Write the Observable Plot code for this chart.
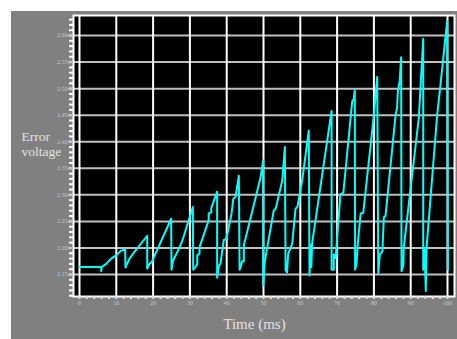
<!DOCTYPE html>
<html>
<head>
<meta charset="utf-8">
<script src="https://cdn.jsdelivr.net/npm/d3@7"></script>
<script src="https://cdn.jsdelivr.net/npm/@observablehq/plot@0.6"></script>
<style>
  html, body { margin: 0; padding: 0; background: #ffffff; width: 457px; height: 339px; overflow: hidden; }
  #chart { position: absolute; left: 11px; top: 11px; width: 446px; height: 328px; background: #808080; }
  #chart svg { display: block; background: #808080; }
</style>
</head>
<body>
<div id="chart"></div>
<script>
// Time (ms)
const timeMs = [
  0, 5.9, 5.9, 6.0, 7.25, 8.6, 9.96, 11.3, 12.4,
  12.5, 12.7, 13.6, 14.9, 18.4,
  18.4, 19.0, 19.6, 24.9,
  25.0, 25.4, 27.2, 28.1, 30.8,
  30.9, 31.5, 32.0, 32.0, 32.6, 32.6, 35.1, 35.1, 35.8, 35.8, 37.4,
  37.4, 37.9, 38.3, 39.2, 39.9, 41.3, 41.8, 42.4, 43.3,
  43.5, 43.75, 44.2, 44.65, 44.65, 47.8, 49.2, 49.9,
  49.9, 50.3, 50.7, 52.8, 53.3, 55.1, 55.8,
  56.0, 56.4, 56.7, 57.8, 58.7, 59.2, 60.5, 62.3,
  62.5, 62.8, 63.0, 63.2, 68.5,
  68.5, 69.1, 69.1, 69.6, 69.8, 70.9, 71.7, 74.1, 74.5, 74.8,
  74.9, 75.3, 75.6, 76.4, 77.1, 80.0, 80.9,
  81.2, 81.6, 82.3, 82.7, 83.15, 85.9, 86.3, 86.5, 87.0, 87.4,
  87.5, 88.0, 88.1, 92.2, 93.4,
  93.4, 93.75, 94.1, 94.3, 97.2, 98.1, 99.9,
  100.1
];
// Error voltage
const errorV = [
  2.164, 2.164, 2.156, 2.164, 2.170, 2.180, 2.186, 2.195, 2.197,
  2.163, 2.167, 2.180, 2.192, 2.223,
  2.161, 2.170, 2.173, 2.255,
  2.159, 2.176, 2.201, 2.217, 2.277,
  2.159, 2.164, 2.170, 2.186, 2.189, 2.201, 2.252, 2.265, 2.267, 2.275, 2.306,
  2.144, 2.167, 2.170, 2.215, 2.217, 2.264, 2.293, 2.296, 2.336,
  2.159, 2.163, 2.175, 2.175, 2.205, 2.293, 2.333, 2.365,
  2.129, 2.170, 2.189, 2.271, 2.274, 2.327, 2.390,
  2.158, 2.154, 2.189, 2.208, 2.274, 2.277, 2.327, 2.421,
  2.148, 2.205, 2.164, 2.208, 2.458,
  2.159, 2.159, 2.188, 2.181, 2.200, 2.301, 2.304, 2.476, 2.480, 2.497,
  2.159, 2.172, 2.207, 2.265, 2.266, 2.451, 2.522,
  2.153, 2.188, 2.193, 2.258, 2.260, 2.451, 2.464, 2.495, 2.514, 2.559,
  2.156, 2.168, 2.200, 2.445, 2.594,
  2.159, 2.200, 2.119, 2.200, 2.451, 2.508, 2.627,
  2.159
];
const xTicks = [0, 10, 20, 30, 40, 50, 60, 70, 80, 90, 100];
const yTicks = [2.15, 2.20, 2.25, 2.30, 2.35, 2.40, 2.45, 2.50, 2.55, 2.60];
const xLabel = "Time (ms)";
const yLabelLines = ["Error", "voltage"];

const data = timeMs.map((t, i) => ({t, v: errorV[i]}));
const xMinor = d3.range(0, 101, 2);
const yMinor = d3.range(211, 264).map(d => d / 100);

const serif = "'Liberation Serif', 'Times New Roman', serif";

const chart = Plot.plot({
  width: 446,
  height: 328,
  marginLeft: 62,
  marginRight: 3,
  marginTop: 4,
  marginBottom: 43,
  style: {background: "#808080", fontFamily: serif, color: "#c8c8c8"},
  x: {domain: [-1.63, 101.9]},
  y: {domain: [2.1086, 2.6377]},
  marks: [
    Plot.frame({fill: "black", stroke: null}),
    Plot.ruleY(yTicks, {stroke: "#c0c0c0", strokeWidth: 2}),
    Plot.ruleX(xTicks, {stroke: "white", strokeWidth: 2}),
    Plot.line(data, {x: "t", y: "v", stroke: "#00ffff", strokeWidth: 2, curve: "linear"}),
    Plot.frame({stroke: "white", strokeWidth: 2}),
    Plot.axisY(yMinor, {tickSize: 4, stroke: "white", strokeWidth: 2, tickFormat: () => "", label: null}),
    Plot.axisY(yTicks, {tickSize: 5, tickPadding: 1, stroke: "#c0c0c0", strokeWidth: 2, tickFormat: d3.format(".2f"), fontSize: 6, fill: "#c8c8c8", label: null}),
    Plot.axisX(xMinor, {tickSize: 3, stroke: "#e0e0e0", strokeWidth: 2, tickFormat: () => "", label: null}),
    Plot.axisX(xTicks, {tickSize: 0, tickPadding: 4, fontSize: 6, fill: "#c8c8c8", label: null}),
    Plot.text([yLabelLines[0]], {frameAnchor: "left", dx: -52, dy: -19, textAnchor: "start", fontSize: 13.5, fill: "#e4e4e4", fontFamily: serif}),
    Plot.text([yLabelLines[1]], {frameAnchor: "left", dx: -52, dy: -4, textAnchor: "start", fontSize: 13.5, fill: "#e4e4e4", fontFamily: serif}),
    Plot.text([xLabel], {frameAnchor: "bottom", dx: -9.5, dy: 32, fontSize: 15, fill: "#e4e4e4", fontFamily: serif})
  ]
});
document.getElementById("chart").appendChild(chart);
</script>
</body>
</html>
